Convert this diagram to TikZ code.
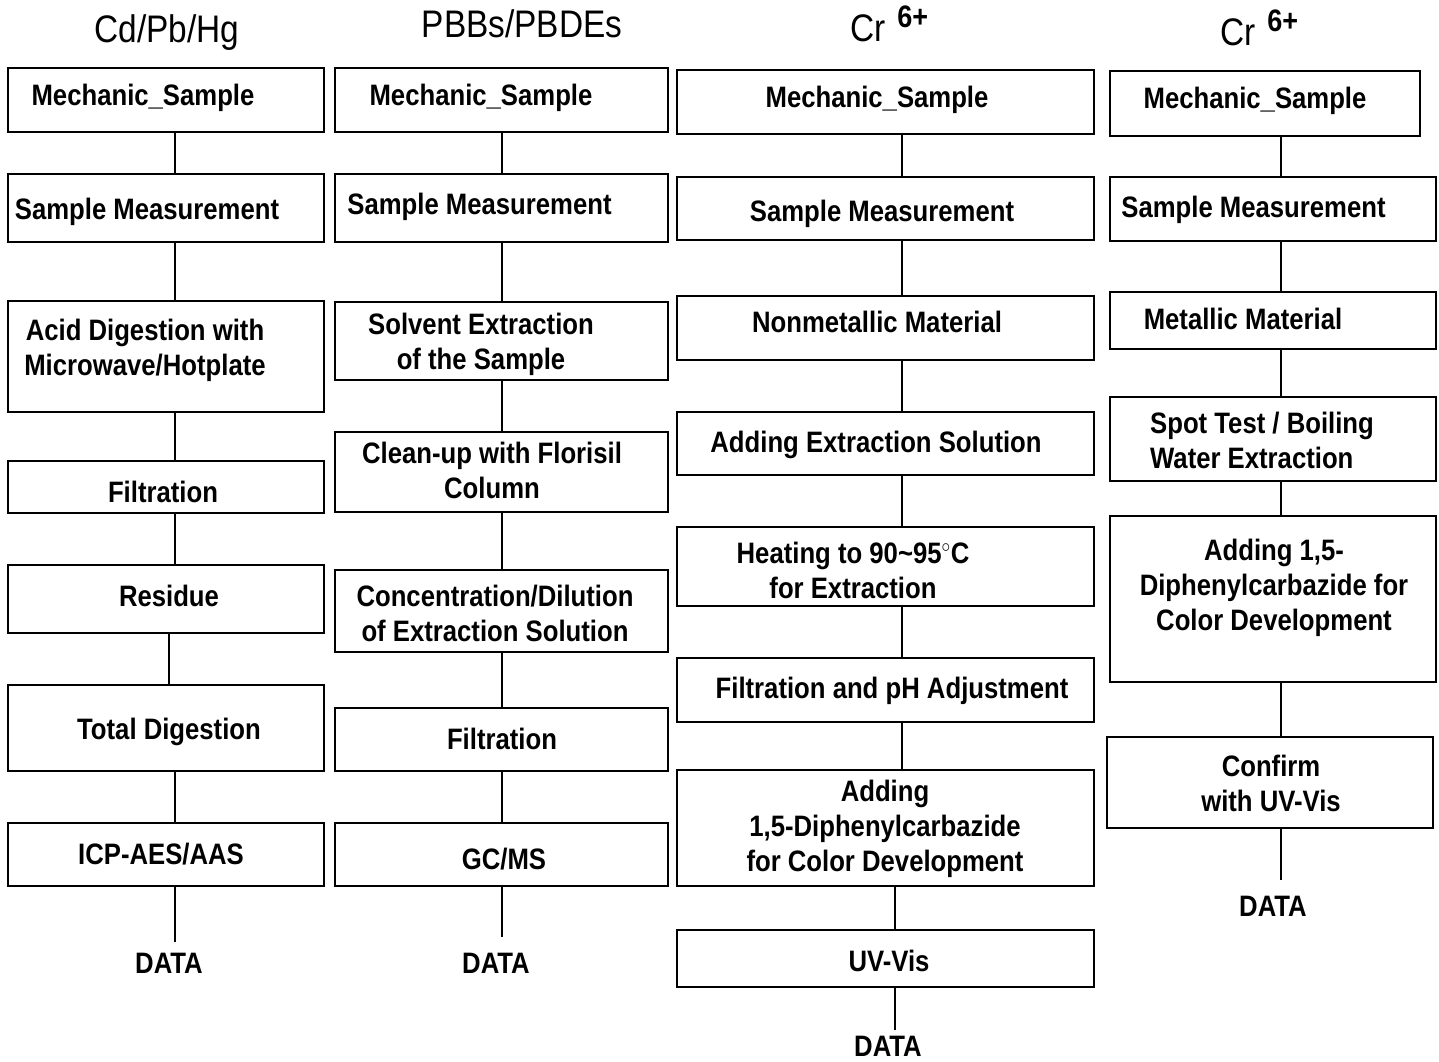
\documentclass[tikz,border=0pt]{standalone}
\usepackage{fontspec}
\setmainfont{Liberation Sans}

\tikzset{
    box/.style 2 args = {draw = black, line width = 1.8pt, inner sep = 0pt,
        minimum width = #1, minimum height = #2},
    txt/.style = {font = \bfseries\fontsize{25.7}{30.4}\selectfont, align = center,
        inner sep = 0pt, yscale = 1.15, transform shape},
    ttl/.style = {font = \fontsize{33.4}{40}\selectfont, inner sep = 0pt,
        yscale = 1.15, transform shape},
    link/.style = {draw = black, line width = 1.8pt}
}

\begin{document}
\begin{tikzpicture}[x = 1pt, y = -1pt]
        \useasboundingbox (0,0) rectangle (1439,1061);
        % titles
        \node[ttl, anchor = base] (tcd) at (167,42) {Cd/Pb/Hg};
        \node[ttl, anchor = base] (tpb) at (522,37) {PBBs/PBDEs};
        \node[ttl, anchor = base west] (tcr) at (850,41) {Cr\hspace{12pt}\raisebox{12pt}{\bfseries\fontsize{27}{27}\selectfont 6+}};
        \node[ttl, anchor = base west] (tmt) at (1220,45) {Cr\hspace{12pt}\raisebox{12pt}{\bfseries\fontsize{27}{27}\selectfont 6+}};
        % line positions
        \coordinate (cdx) at (175,0);
        \coordinate (cdr) at (169,0);
        \coordinate (pbx) at (502,0);
        \coordinate (crx) at (902,0);
        \coordinate (cry) at (895,0);
        \coordinate (mtx) at (1281,0);
        % Cd/Pb/Hg
        \node[box = {316pt}{64pt}] (cd1) at (166,100) {};
        \node[txt] (cd1t) at (143,98) {Mechanic\_Sample};
        \node[box = {316pt}{68pt}] (cd2) at (166,208) {};
        \node[txt] (cd2t) at (147,212) {Sample Measurement};
        \node[box = {316pt}{111pt}] (cd3) at (166,356.5) {};
        \node[txt] (cd3t) at (145,350.5) {Acid Digestion with\\Microwave/Hotplate};
        \node[box = {316pt}{52pt}] (cd4) at (166,487) {};
        \node[txt] (cd4t) at (163,492) {Filtration};
        \node[box = {316pt}{68pt}] (cd5) at (166,599) {};
        \node[txt] (cd5t) at (169,596) {Residue};
        \node[box = {316pt}{86pt}] (cd6) at (166,728) {};
        \node[txt] (cd6t) at (169,732) {Total Digestion};
        \node[box = {316pt}{63pt}] (cd7) at (166,854.5) {};
        \node[txt] (cd7t) at (161,854) {ICP-AES/AAS};
        \node[txt] (cdd) at (169,963) {DATA};
        % PBBs/PBDEs
        \node[box = {333pt}{64pt}] (pb1) at (501.5,100) {};
        \node[txt] (pb1t) at (481,98) {Mechanic\_Sample};
        \node[box = {333pt}{68pt}] (pb2) at (501.5,208) {};
        \node[txt] (pb2t) at (479.5,207) {Sample Measurement};
        \node[box = {333pt}{78pt}] (pb3) at (501.5,341) {};
        \node[txt] (pb3t) at (481,344) {Solvent Extraction\\of the Sample};
        \node[box = {333pt}{80pt}] (pb4) at (501.5,472) {};
        \node[txt] (pb4t) at (492,470) {Clean-up with Florisil\\Column};
        \node[box = {333pt}{82pt}] (pb5) at (501.5,611) {};
        \node[txt] (pb5t) at (495,613) {Concentration/Dilution\\of Extraction Solution};
        \node[box = {333pt}{63pt}] (pb6) at (501.5,739.5) {};
        \node[txt] (pb6t) at (502,739) {Filtration};
        \node[box = {333pt}{63pt}] (pb7) at (501.5,854.5) {};
        \node[txt] (pb7t) at (504,859) {GC/MS};
        \node[txt] (pbd) at (496,963) {DATA};
        % Cr6+ nonmetallic
        \node[box = {417pt}{64pt}] (cr1) at (885.5,102) {};
        \node[txt] (cr1t) at (877,100) {Mechanic\_Sample};
        \node[box = {417pt}{63pt}] (cr2) at (885.5,208.5) {};
        \node[txt] (cr2t) at (882,214) {Sample Measurement};
        \node[box = {417pt}{64pt}] (cr3) at (885.5,328) {};
        \node[txt] (cr3t) at (877,322) {Nonmetallic Material};
        \node[box = {417pt}{63pt}] (cr4) at (885.5,443.5) {};
        \node[txt] (cr4t) at (876,445) {Adding Extraction Solution};
        \node[box = {417pt}{79pt}] (cr5) at (885.5,566.5) {};
        \node[txt] (cr5t) at (853,570) {Heating to 90\textasciitilde95$^{\circ}$C\\for Extraction};
        \node[box = {417pt}{64pt}] (cr6) at (885.5,690) {};
        \node[txt] (cr6t) at (892,691) {Filtration and pH Adjustment};
        \node[box = {417pt}{116pt}] (cr7) at (885.5,828) {};
        \node[txt] (cr7t) at (885,829) {Adding\\1,5-Diphenylcarbazide\\for Color Development};
        \node[box = {417pt}{57pt}] (cr8) at (885.5,958.5) {};
        \node[txt] (cr8t) at (889,961) {UV-Vis};
        \node[txt] (crd) at (888,1046) {DATA};
        % Cr6+ metallic
        \node[box = {310pt}{65pt}] (mt1) at (1265,103.5) {};
        \node[txt] (mt1t) at (1255,101) {Mechanic\_Sample};
        \node[box = {326pt}{64pt}] (mt2) at (1273,209) {};
        \node[txt] (mt2t) at (1253.5,210) {Sample Measurement};
        \node[box = {326pt}{57pt}] (mt3) at (1273,320.5) {};
        \node[txt] (mt3t) at (1243,319) {Metallic Material};
        \node[box = {326pt}{84pt}] (mt4) at (1273,439) {};
        \node[txt, align = left] (mt4t) at (1262,440) {Spot Test / Boiling\\Water Extraction};
        \node[box = {326pt}{166pt}] (mt5) at (1273,599) {};
        \node[txt] (mt5t) at (1274,588) {Adding 1,5-\\Diphenylcarbazide for\\Color Development};
        \node[box = {326pt}{91pt}] (mt6) at (1270,782.5) {};
        \node[txt] (mt6t) at (1271,783) {Confirm\\with UV-Vis};
        \node[txt] (mtd) at (1273,906) {DATA};
        % connectors
        \draw[link] (cd1.south -| cdx) -- (cd2.north -| cdx);
        \draw[link] (cd2.south -| cdx) -- (cd3.north -| cdx);
        \draw[link] (cd3.south -| cdx) -- (cd4.north -| cdx);
        \draw[link] (cd4.south -| cdx) -- (cd5.north -| cdx);
        \draw[link] (cd5.south -| cdr) -- (cd6.north -| cdr);
        \draw[link] (cd6.south -| cdx) -- (cd7.north -| cdx);
        \draw[link, shorten > = 11pt] (cd7.south -| cdx) -- (cdd.north -| cdx);
        \draw[link] (pb1.south -| pbx) -- (pb2.north -| pbx);
        \draw[link] (pb2.south -| pbx) -- (pb3.north -| pbx);
        \draw[link] (pb3.south -| pbx) -- (pb4.north -| pbx);
        \draw[link] (pb4.south -| pbx) -- (pb5.north -| pbx);
        \draw[link] (pb5.south -| pbx) -- (pb6.north -| pbx);
        \draw[link] (pb6.south -| pbx) -- (pb7.north -| pbx);
        \draw[link, shorten > = 16pt] (pb7.south -| pbx) -- (pbd.north -| pbx);
        \draw[link] (cr1.south -| crx) -- (cr2.north -| crx);
        \draw[link] (cr2.south -| crx) -- (cr3.north -| crx);
        \draw[link] (cr3.south -| crx) -- (cr4.north -| crx);
        \draw[link] (cr4.south -| crx) -- (cr5.north -| crx);
        \draw[link] (cr5.south -| crx) -- (cr6.north -| crx);
        \draw[link] (cr6.south -| crx) -- (cr7.north -| crx);
        \draw[link] (cr7.south -| cry) -- (cr8.north -| cry);
        \draw[link, shorten > = 6pt] (cr8.south -| cry) -- (crd.north -| cry);
        \draw[link] (mt1.south -| mtx) -- (mt2.north -| mtx);
        \draw[link] (mt2.south -| mtx) -- (mt3.north -| mtx);
        \draw[link] (mt3.south -| mtx) -- (mt4.north -| mtx);
        \draw[link] (mt4.south -| mtx) -- (mt5.north -| mtx);
        \draw[link] (mt5.south -| mtx) -- (mt6.north -| mtx);
        \draw[link, shorten > = 16pt] (mt6.south -| mtx) -- (mtd.north -| mtx);
\end{tikzpicture}
\end{document}
